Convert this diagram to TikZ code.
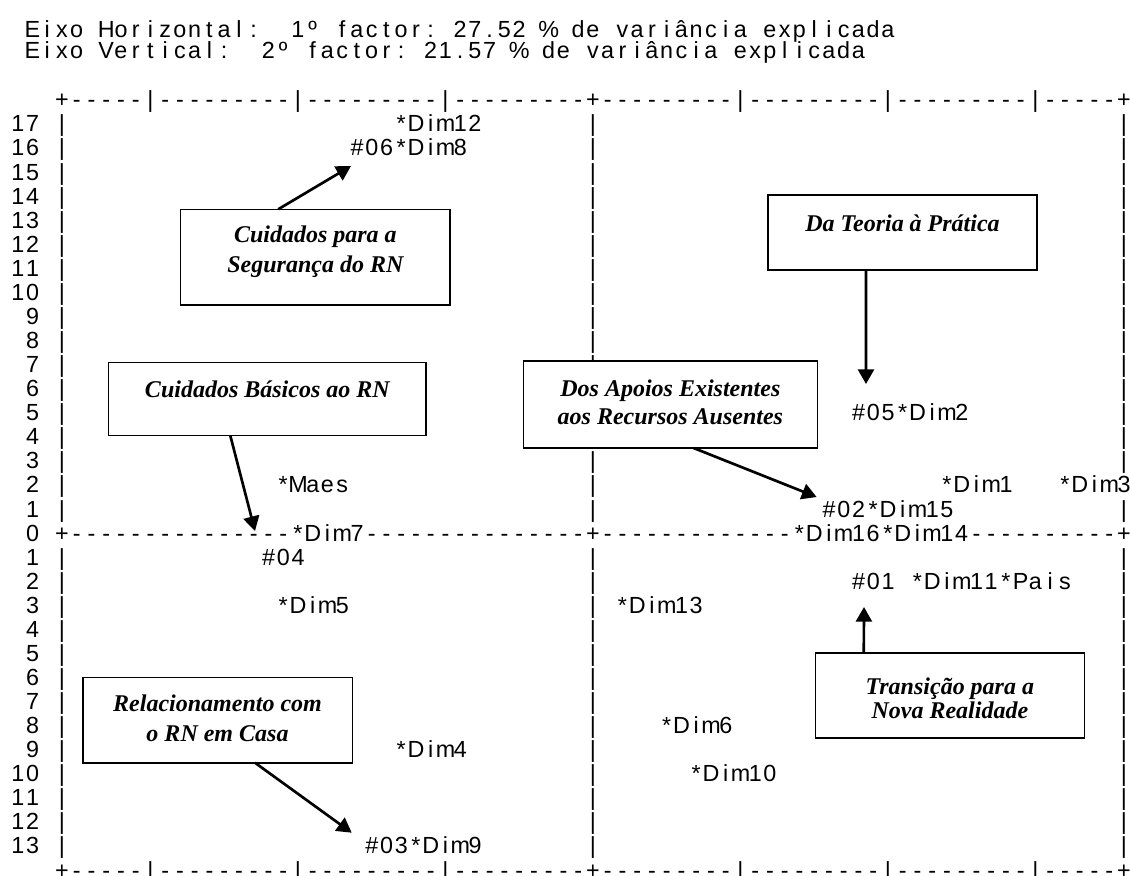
\documentclass[tikz,border=0pt]{standalone}
\usepackage{fontspec}
\setmainfont{Liberation Serif}
\newfontfamily\monof{Liberation Sans}
\usetikzlibrary{arrows.meta,calc}
\newlength\monow
\setlength\monow{11.0625pt}
\ExplSyntaxOn
\cs_new:Npn \__mono_char:n #1
 {
   \str_case:nnF {#1}
    {
      {!}{\symbol{35}}
      {@}{\symbol{37}}
      {=}{}
    }
    {#1}
 }
\NewDocumentCommand\mono{m}
 {
   \str_map_inline:nn {#1}
    { \makebox[\monow][c]{\__mono_char:n {##1}} }
 }
\NewDocumentCommand\mrep{mm}
 {
   \prg_replicate:nn {#1} { \makebox[\monow][c]{#2} }
 }
\ExplSyntaxOff
\tikzset{
  mt/.style={font=\monof\fontsize{17.5pt}{21pt}\selectfont, inner sep=0pt, outer sep=0pt},
  boxst/.style={draw, line width=1.2pt, fill=white, inner sep=0pt, outer sep=0pt},
  bt/.style={font=\fontsize{18pt}{22pt}\selectfont\bfseries\itshape, inner sep=0pt, outer sep=0pt, anchor=base},
  arr/.style={line width=2pt, -{Triangle[length=11pt,width=12pt]}}
}
\begin{document}
\begin{tikzpicture}[x=0.75pt,y=-0.75pt]
\useasboundingbox (0,0) rectangle (1130,875);
\fill[white] (0,0) rectangle (1130,875);
% ---------- text grid ----------
\begin{scope}[shift={(54.625,107.8)}, x=11.0625pt, y=-18.0525pt]
  \node[mt, anchor=base west] (title1) at (-2,-2.92) {\mono{Eixo=Horizontal:==1º=factor:=27.52=@=de=variância=explicada}};
  \node[mt, anchor=base west] (title2) at (-2,-2.06) {\mono{Eixo=Vertical:==2º=factor:=21.57=@=de=variância=explicada}};
  \node[mt, anchor=base west] (topb) at (0,0) {\mono{+}\mrep{5}{-}\mono{|}\mrep{9}{-}\mono{|}\mrep{9}{-}\mono{|}\mrep{9}{-}\mono{+}\mrep{9}{-}\mono{|}\mrep{9}{-}\mono{|}\mrep{9}{-}\mono{|}\mrep{5}{-}\mono{+}};
  \node[mt, anchor=base west] (botb) at (0,32) {\mono{+}\mrep{5}{-}\mono{|}\mrep{9}{-}\mono{|}\mrep{9}{-}\mono{|}\mrep{9}{-}\mono{+}\mrep{9}{-}\mono{|}\mrep{9}{-}\mono{|}\mrep{9}{-}\mono{|}\mrep{5}{-}\mono{+}};
  \node[mt, anchor=base west] (axis0) at (0,18) {\mono{+}\mrep{15}{-}\mono{*Dim7}\mrep{15}{-}\mono{+}\mrep{13}{-}\mono{*Dim16*Dim14}\mrep{10}{-}\mono{+}};
  \node[mt, anchor=base east] (r18) at (-1,18) {\mono{0}};
  \foreach \L in {1,...,17}{
    \pgfmathtruncatemacro\lab{18-\L}
    \node[mt, anchor=base east] (r\L) at (-1,\L) {\expandafter\mono\expandafter{\lab}};
  }
  \foreach \L in {19,...,31}{
    \pgfmathtruncatemacro\lab{\L-18}
    \node[mt, anchor=base east] (r\L) at (-1,\L) {\expandafter\mono\expandafter{\lab}};
  }
  \foreach \L in {1,...,17,19,20,...,31}{
    \node[mt, anchor=base west] (vl\L) at (0,\L) {\mono{|}};
  }
  \foreach \L in {1,...,11,15,16,17,19,20,...,31}{
    \node[mt, anchor=base west] (vc\L) at (36,\L) {\mono{|}};
  }
  \foreach \L in {1,...,15,17,19,20,...,31}{
    \node[mt, anchor=base west] (vr\L) at (72,\L) {\mono{|}};
  }
  % data points
  \node[mt, anchor=base west] (d12) at (23,1) {\mono{*Dim12}};
  \node[mt, anchor=base west] (d8) at (20,2) {\mono{!06*Dim8}};
  \node[mt, anchor=base west] (d2) at (54,13) {\mono{!05*Dim2}};
  \node[mt, anchor=base west] (maes) at (15,16) {\mono{*Maes}};
  \node[mt, anchor=base west] (d1) at (60,16) {\mono{*Dim1}};
  \node[mt, anchor=base west] (d3) at (68,16) {\mono{*Dim3}};
  \node[mt, anchor=base west] (d15) at (52,17) {\mono{!02*Dim15}};
  \node[mt, anchor=base west] (p04) at (14,19) {\mono{!04}};
  \node[mt, anchor=base west] (d11) at (54,20) {\mono{!01=*Dim11*Pais}};
  \node[mt, anchor=base west] (d5) at (15,21) {\mono{*Dim5}};
  \node[mt, anchor=base west] (d13) at (38,21) {\mono{*Dim13}};
  \node[mt, anchor=base west] (d6) at (41,26) {\mono{*Dim6}};
  \node[mt, anchor=base west] (d4) at (23,27) {\mono{*Dim4}};
  \node[mt, anchor=base west] (d10) at (43,28) {\mono{*Dim10}};
  \node[mt, anchor=base west] (d9) at (21,31) {\mono{!03*Dim9}};
\end{scope}
% ---------- boxes ----------
\node[boxst, minimum width=201.98pt, minimum height=71.78pt] (b1) at (315.35,257.15) {};
\node[bt] (b1t1) at (315.35,242.5) {Cuidados para a};
\node[bt] (b1t2) at (315.35,272.5) {Segurança do RN};
\node[boxst, minimum width=201.75pt, minimum height=56.25pt] (b2) at (902.5,232.5) {};
\node[bt] (b2t1) at (902.5,231.5) {Da Teoria à Prática};
\node[boxst, minimum width=237.98pt, minimum height=54.6pt] (b3) at (267.35,398.9) {};
\node[bt] (b3t1) at (267.35,397.5) {Cuidados Básicos ao RN};
\node[boxst, minimum width=220.58pt, minimum height=65.25pt] (b4) at (670.35,404.5) {};
\node[bt] (b4t1) at (670.35,396.2) {Dos Apoios Existentes};
\node[bt] (b4t2) at (670.35,424.4) {aos Recursos Ausentes};
\node[boxst, minimum width=202.2pt, minimum height=64.05pt] (b5) at (217.5,720) {};
\node[bt] (b5t1) at (217.5,711.5) {Relacionamento com};
\node[bt] (b5t2) at (217.5,741.5) {o RN em Casa};
\node[boxst, minimum width=201.75pt, minimum height=63.75pt] (b6) at (949.85,695.5) {};
\node[bt] (b6t1) at (949.85,694.2) {Transição para a};
\node[bt] (b6t2) at (949.85,718.5) {Nova Realidade};
% ---------- arrow targets ----------
\coordinate (t1) at (351,166);
\coordinate (t2) at (866,384);
\coordinate (t3) at (255,531);
\coordinate (t4) at (816.6,497);
\coordinate (t5) at (351.7,832.7);
\coordinate (t6) at (864,607);
\draw[arr] ($(b1.north west)!0.362!(b1.north east)$) -- (t1);
\draw[arr] ($(b2.south west)!0.364!(b2.south east)$) -- (t2);
\draw[arr] ($(b3.south west)!0.383!(b3.south east)$) -- (t3);
\draw[arr] ($(b4.south west)!0.579!(b4.south east)$) -- (t4);
\draw[arr] ($(b5.south west)!0.639!(b5.south east)$) -- (t5);
\draw[arr] ($(b6.north west)!0.18!(b6.north east)$) -- (t6);
\end{tikzpicture}
\end{document}
